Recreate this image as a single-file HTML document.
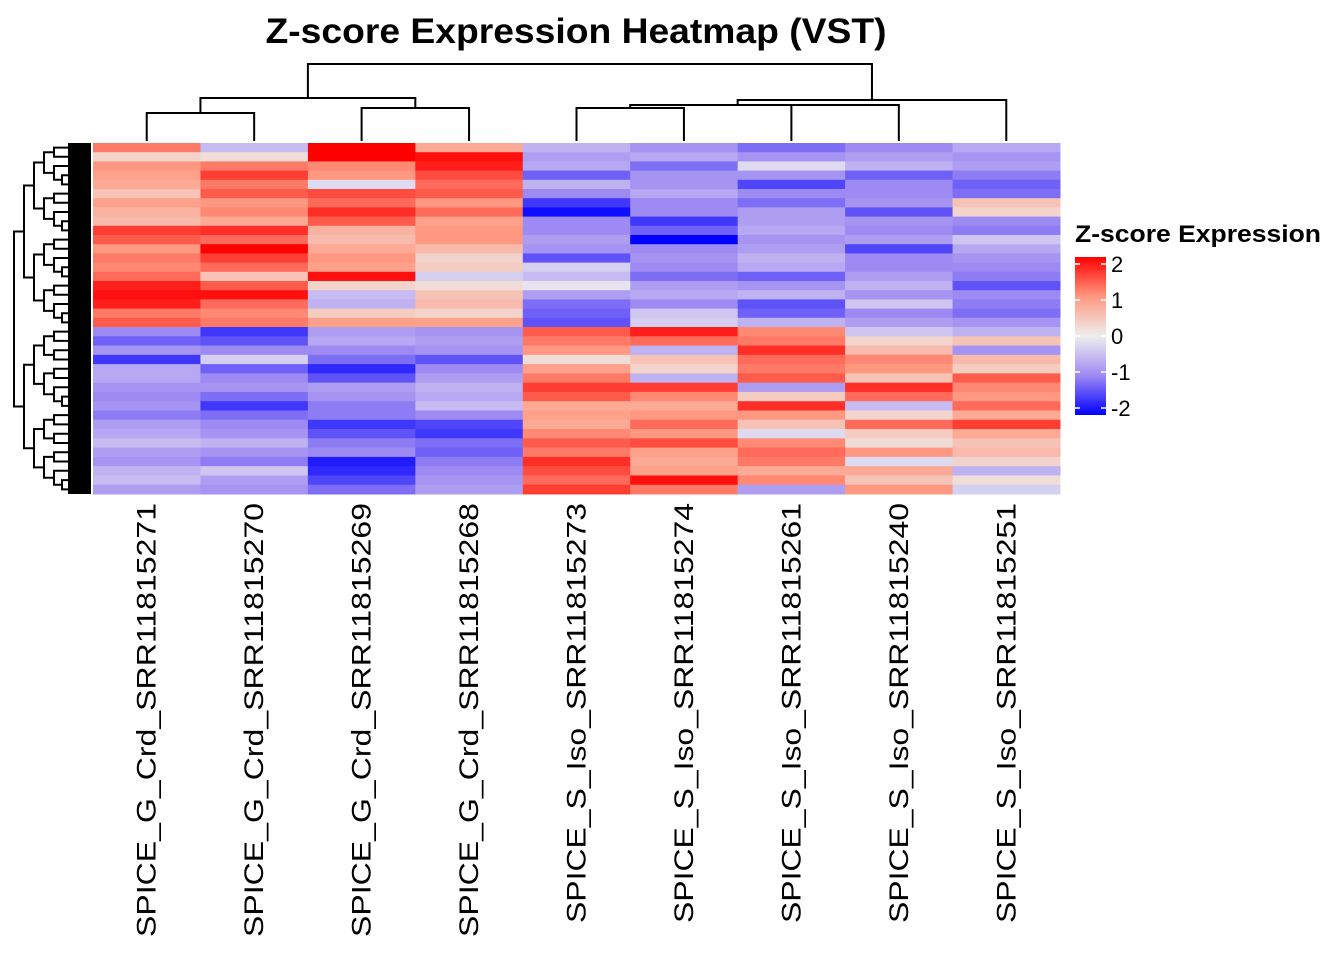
<!DOCTYPE html>
<html><head><meta charset="utf-8"><style>
html,body{margin:0;padding:0;background:#fff;}
svg{display:block;font-family:"Liberation Sans",Arial,sans-serif;}
</style></head><body>
<svg id="chart" width="1344" height="960" viewBox="0 0 1344 960" xmlns="http://www.w3.org/2000/svg">
<text x="576" y="43" text-anchor="middle" font-size="35" font-weight="bold" textLength="621" lengthAdjust="spacingAndGlyphs">Z-score Expression Heatmap (VST)</text>
<g id="coldend" stroke="#000" stroke-width="2" fill="none"></g>
<g id="rowdend" stroke="#000" stroke-width="2" fill="none"></g>
<g id="cells"></g>
<g id="labels"></g>
<g>
<text x="1075" y="242" font-size="24" font-weight="bold" textLength="246" lengthAdjust="spacingAndGlyphs">Z-score Expression</text>
<defs><linearGradient id="lg" x1="0" y1="0" x2="0" y2="1">
<stop offset="0" stop-color="#ff0000"/><stop offset="0.25" stop-color="#ff9880"/><stop offset="0.5" stop-color="#eeeeee"/><stop offset="0.75" stop-color="#9e8af3"/><stop offset="1" stop-color="#0000ff"/></linearGradient></defs>
<rect x="1075" y="257" width="31" height="158" fill="url(#lg)"/>
<g id="legticks"></g>
</g>
</svg>
<script>
const columns=["SPICE_G_Crd_SRR11815271","SPICE_G_Crd_SRR11815270","SPICE_G_Crd_SRR11815269","SPICE_G_Crd_SRR11815268","SPICE_S_Iso_SRR11815273","SPICE_S_Iso_SRR11815274","SPICE_S_Iso_SRR11815261","SPICE_S_Iso_SRR11815240","SPICE_S_Iso_SRR11815251"];
const zRows=[
[1.2,-0.5,2,0.8,-0.6,-0.9,-1.2,-1.0,-0.7],
[0.3,0.2,2,1.9,-0.8,-0.7,-0.9,-0.8,-0.9],
[1.0,1.2,1.1,1.8,-0.7,-1.2,-0.2,-0.6,-0.8],
[0.9,1.6,1.0,1.5,-1.3,-0.9,-0.9,-1.3,-1.1],
[0.8,1.2,-0.2,1.3,-0.6,-0.9,-1.5,-1.0,-1.3],
[0.5,1.4,1.5,1.4,-1.0,-0.7,-1.0,-1.0,-1.2],
[0.9,1.0,1.3,1.0,-1.6,-1.0,-1.2,-0.9,0.5],
[0.7,1.1,1.7,1.3,-1.9,-1.0,-0.8,-1.4,0.3],
[0.6,0.8,1.4,0.9,-1.0,-1.6,-0.8,-0.9,-1.0],
[1.6,1.7,0.7,1.0,-1.0,-1.3,-0.7,-1.0,-1.1],
[1.4,1.3,0.6,1.0,-0.8,-2.0,-0.9,-0.8,-0.4],
[1.0,2.0,0.8,0.6,-0.9,-1.0,-0.8,-1.5,-0.7],
[1.2,1.6,1.0,0.3,-1.4,-0.9,-0.6,-1.0,-0.9],
[1.1,1.3,0.9,0.4,-0.3,-1.0,-0.7,-1.0,-1.0],
[1.3,0.5,1.9,-0.3,-0.5,-1.2,-1.3,-0.8,-1.1],
[1.8,1.4,0.3,0.2,-0.1,-0.8,-0.9,-0.6,-1.4],
[1.9,1.9,-0.5,0.5,-0.8,-0.7,-0.6,-0.9,-1.0],
[1.8,1.3,-0.6,0.6,-1.2,-1.0,-1.4,-0.4,-1.1],
[1.2,1.1,0.4,0.3,-1.3,-0.4,-1.3,-1.0,-1.2],
[1.4,1.2,0.9,0.9,-1.4,-0.3,-0.6,-0.8,-0.9],
[-1.0,-1.6,-0.8,-0.9,1.4,1.8,1.1,-0.4,-0.6],
[-1.3,-1.4,-0.7,-0.8,1.2,1.3,1.2,0.3,0.5],
[-0.9,-1.0,-1.0,-0.9,1.0,-0.6,1.7,0.6,-0.9],
[-1.6,-0.3,-1.2,-1.4,0.2,0.5,1.3,1.1,0.6],
[-0.7,-1.3,-1.7,-1.0,0.9,0.3,1.2,1.0,0.4],
[-0.7,-1.0,-1.4,-0.8,1.2,-0.6,1.4,0.5,1.4],
[-0.9,-0.9,-0.8,-0.6,1.6,1.6,-0.8,1.7,1.1],
[-1.0,-1.2,-0.9,-0.7,1.4,1.1,0.4,1.3,1.0],
[-0.9,-1.6,-1.1,-0.5,0.8,0.8,1.7,-0.5,1.3],
[-1.1,-1.2,-1.1,-1.0,0.9,1.0,1.0,0.3,0.8],
[-0.8,-1.0,-1.6,-1.5,0.8,1.3,0.5,1.3,1.6],
[-0.7,-0.9,-1.4,-1.6,1.1,1.0,-0.2,0.4,0.8],
[-0.5,-0.6,-1.1,-1.2,1.4,1.5,1.1,0.2,0.5],
[-0.8,-0.9,-1.0,-1.3,1.2,0.9,1.3,1.0,0.6],
[-0.9,-1.1,-1.8,-1.1,1.7,0.8,1.2,-0.2,0.3],
[-0.6,-0.4,-1.7,-1.0,1.5,0.9,0.8,0.8,-0.6],
[-0.5,-0.8,-1.5,-0.9,1.3,1.9,1.1,0.5,0.2],
[-0.8,-0.9,-1.2,-0.8,1.6,1.2,-0.8,1.0,-0.3]
];
const legendTicks=[2,1,0,-1,-2];
// column dendrogram merges: [leftNode,rightNode,height]; leaves 0..8, internal nodes 9+
const colMerges=[[0,1,113],[2,3,108],[9,10,98],[4,5,108],[6,7,105],[12,13,105],[14,8,100],[11,15,64]];

const NS="http://www.w3.org/2000/svg";
function mk(t,a,p){const e=document.createElementNS(NS,t);for(const k in a)e.setAttribute(k,a[k]);p.appendChild(e);return e;}
const X0=93,X1=1060,Y0=143,Y1=494;
const cw=(X1-X0)/columns.length;
const topN=20;
const yTop=i=>i<topN?Y0+i*(327-Y0)/topN:327+(i-topN)*(Y1-327)/(zRows.length-topN);
const xC=i=>X0+cw*(i+0.5);
const stops=[[-2,[0,0,255]],[-1,[158,138,243]],[0,[238,238,238]],[1,[255,152,128]],[2,[255,0,0]]];
function color(v){v=Math.max(-2,Math.min(2,v));for(let i=0;i<4;i++){const a=stops[i],b=stops[i+1];if(v<=b[0]){const t=(v-a[0])/(b[0]-a[0]);const c=a[1].map((x,j)=>Math.round(x+(b[1][j]-x)*t));return `rgb(${c})`;}}}
const cells=document.getElementById('cells');
zRows.forEach((row,r)=>row.forEach((v,c)=>{
 const y=yTop(r),h=yTop(r+1)-y;
 const e=mk('rect',{x:X0+c*cw,y:y,width:cw+0.5,height:h+0.5,fill:color(v)},cells);
 
 
}));
const labels=document.getElementById('labels');
columns.forEach((n,i)=>{
 const x=xC(i)+9,y=503;
 const t=mk('text',{x:x,y:y,transform:`rotate(-90 ${x} ${y})`,'text-anchor':'end','font-size':27,textLength:n.includes('_G_')?434:420,lengthAdjust:'spacingAndGlyphs'},labels);
 t.textContent=n;
 
 
});
const cd=document.getElementById('coldend');
const nodeX={},nodeY={};
columns.forEach((c,i)=>{nodeX[i]=xC(i);nodeY[i]=141;});
colMerges.forEach((m,k)=>{
 const id=columns.length+k,[a,b,h]=m;
 const p=mk('path',{d:`M${nodeX[a]},${nodeY[a]}V${h}H${nodeX[b]}V${nodeY[b]}`},cd);
 
 
 nodeX[id]=(nodeX[a]+nodeX[b])/2;nodeY[id]=h;
});
const rd=document.getElementById('rowdend');
const rowSplitDepthX=[14,24,34,44,54,62,70,78,84];
function tree(lo,hi,d){
 if(hi-lo<=1){return {y:(yTop(lo)+yTop(lo+1))/2,x:90};}
 const mid=(lo===0&&hi===zRows.length)?topN:Math.floor((lo+hi)/2);
 const a=tree(lo,mid,d+1),b=tree(mid,hi,d+1);
 const x=rowSplitDepthX[Math.min(d,rowSplitDepthX.length-1)];
 const p=mk('path',{d:`M${a.x},${a.y}H${x}V${b.y}H${b.x}`},rd);
 
 
 return {x:x,y:(a.y+b.y)/2};
}
tree(0,zRows.length,0);
const blk=mk('rect',{x:68,y:Y0,width:23,height:Y1-Y0,fill:'#000',stroke:'none'},rd);


const lt=document.getElementById('legticks');
legendTicks.forEach(v=>{
 const y=257+7+(2-v)/4*(415-257-14);
 const l1=mk('line',{x1:1075,x2:1080,y1:y,y2:y,stroke:'#fff','stroke-width':1.5},lt);
 
 
 const l2=mk('line',{x1:1101,x2:1106,y1:y,y2:y,stroke:'#fff','stroke-width':1.5},lt);
 
 
 const t=mk('text',{x:1111,y:y+8,'font-size':22},lt);
 t.textContent=v;
 
 
});
</script>
</body></html>
